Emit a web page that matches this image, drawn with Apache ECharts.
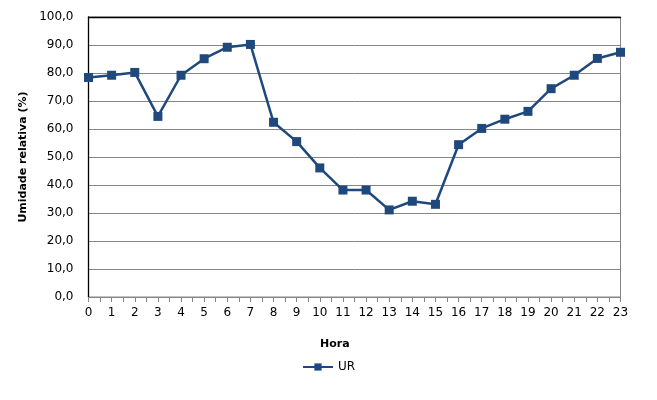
<!DOCTYPE html>
<html><head><meta charset="utf-8">
<script src="https://cdn.jsdelivr.net/npm/echarts@6/dist/echarts.min.js"></script>
<style>html,body{margin:0;padding:0;background:#fff}#c{width:657px;height:400px}</style>
</head><body><div id="c"></div>
<script>
const hours = [0,1,2,3,4,5,6,7,8,9,10,11,12,13,14,15,16,17,18,19,20,21,22,23];
const ur = [78.4,79.2,80.2,64.5,79.2,85.1,89.2,90.2,62.4,55.5,46.1,38.2,38.2,31.1,34.2,33.1,54.4,60.2,63.5,66.3,74.4,79.2,85.2,87.4];
const seriesName = 'UR';
const xTitle = 'Hora';
const yTitle = 'Umidade relativa (%)';

const font = 'DejaVu Sans';
const blue = '#1F497D';
const chart = echarts.init(document.getElementById('c'), null, {renderer:'canvas'});
chart.setOption({
  animation:false,
  textStyle:{fontFamily:font},
  title:{text:xTitle, left:320, top:339, textStyle:{fontFamily:font,fontSize:11,fontWeight:'bold',color:'#000'}, padding:0},
  legend:{data:[seriesName], left:302, top:361, itemWidth:30, itemHeight:9, itemGap:4,
    textStyle:{fontFamily:font,fontSize:12,color:'#000'}, padding:0},
  grid:{left:88.5, right:36.5, top:17, bottom:103, show:true, borderColor:'#868686', borderWidth:1},
  xAxis:[{type:'value', min:0, max:23, interval:1,
    axisLine:{show:true, lineStyle:{color:'#868686',width:1}},
    axisTick:{show:true, length:5, lineStyle:{color:'#868686'}},
    minorTick:{show:true, splitNumber:2, length:5, lineStyle:{color:'#868686'}},
    splitLine:{show:false},
    axisLabel:{margin:10, fontSize:12, color:'#000', fontFamily:font}},
   {type:'value', min:0, max:23, position:'top', axisLine:{show:true, lineStyle:{color:'#000',width:1.3}},
    axisTick:{show:false}, axisLabel:{show:false}, splitLine:{show:false}}],
  yAxis:{type:'value', min:0, max:100, interval:10,
    name:yTitle, nameLocation:'middle', nameGap:57, nameRotate:90,
    nameTextStyle:{fontFamily:font,fontSize:11,fontWeight:'bold',color:'#000'},
    axisLine:{show:true, lineStyle:{color:'#000',width:1.3}},
    axisTick:{show:false},
    splitLine:{show:true, lineStyle:{color:'#868686',width:1}},
    axisLabel:{margin:15, fontSize:12, color:'#000', fontFamily:font,
      formatter:v=>v.toFixed(1).replace('.',',')}},
  series:[{name:seriesName, type:'line', data:hours.map((h,i)=>[h,ur[i]]),
    symbol:'rect', symbolSize:9, showSymbol:true,
    lineStyle:{color:blue,width:2.5}, itemStyle:{color:blue}}]
});
</script></body></html>
